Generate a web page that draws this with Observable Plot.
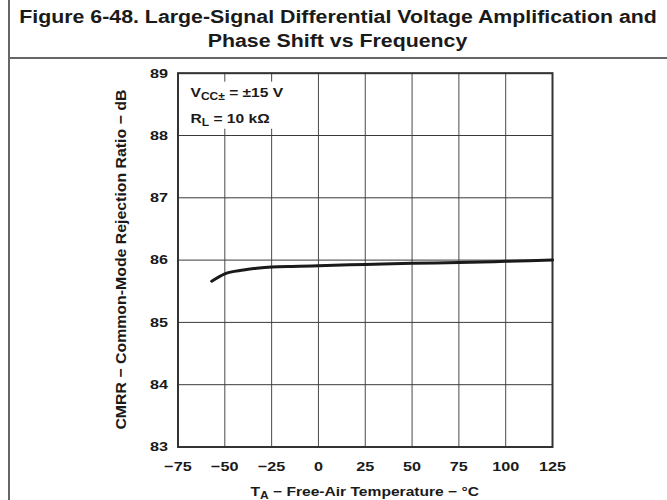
<!DOCTYPE html>
<html>
<head>
<meta charset="utf-8">
<script src="https://cdn.jsdelivr.net/npm/d3@7"></script>
<script src="https://cdn.jsdelivr.net/npm/@observablehq/plot@0.6"></script>
<style>
  html, body { margin: 0; padding: 0; background: #fff; }
  #wrap { position: relative; width: 667px; height: 500px; overflow: hidden; background: #fff;
          font-family: "Liberation Sans", Arial, Helvetica, sans-serif; color: #1a1a1a; }
  #vline { position: absolute; left: 8px; top: 0; width: 1.5px; height: 500px; background: #666; }
  #hline { position: absolute; left: 8px; top: 57px; right: 0; height: 1.5px; background: #666; }
  #title { position: absolute; left: 9px; right: 0; top: 0; height: 57px; text-align: center;
           font-weight: bold; font-size: 18px; line-height: 24px; padding-top: 5px; box-sizing: border-box; }
  #title span { display: inline-block; transform: scaleX(1.185); transform-origin: center; white-space: nowrap; }
  #chart { position: absolute; left: 0; top: 58px; }
</style>
</head>
<body>
<div id="wrap">
  <div id="title"><span>Figure 6-48. Large-Signal Differential Voltage Amplification and</span><br><span>Phase Shift vs Frequency</span></div>
  <div id="hline"></div>
  <div id="vline"></div>
  <div id="chart"></div>
</div>
<script>
// Data
const temps = [-57, -50, -40, -33, -25, -10, 0, 25, 50, 75, 100, 125];
const cmrr  = [85.66, 85.78, 85.84, 85.87, 85.89, 85.90, 85.91, 85.93, 85.95, 85.96, 85.98, 86.00];
const xTicks = [-75, -50, -25, 0, 25, 50, 75, 100, 125];
const yTicks = [83, 84, 85, 86, 87, 88, 89];
const xLabelMain = "T";
const xLabelSub = "A";
const xLabelRest = " − Free-Air Temperature − °C";
const yLabel = "CMRR − Common-Mode Rejection Ratio − dB";

const data = temps.map((t, i) => ({t, v: cmrr[i]}));

const plot = Plot.plot({
  width: 667,
  height: 442,
  marginLeft: 177.5,
  marginRight: 115,
  marginTop: 14.7,
  marginBottom: 53.5,
  style: {fontFamily: "'Liberation Sans', Arial, sans-serif", fontWeight: "bold", fontSize: "13.5px", color: "#1a1a1a", background: "transparent", overflow: "visible"},
  x: {domain: [-75, 125]},
  y: {domain: [83, 89]},
  marks: [
    Plot.gridX(xTicks, {stroke: "#4a4a4a", strokeOpacity: 1, strokeWidth: 1}),
    Plot.gridY(yTicks, {stroke: "#3a3a3a", strokeOpacity: 1, strokeWidth: 1}),
    Plot.axisX(xTicks, {tickSize: 0, tickPadding: 14, label: null, fill: "#1a1a1a", tickFormat: d => d < 0 ? "−" + Math.abs(d) : String(d)}),
    Plot.axisY(yTicks, {tickSize: 0, tickPadding: 10, label: null, fill: "#1a1a1a", tickFormat: d => String(d)}),
    Plot.frame({stroke: "#333", strokeWidth: 2}),
    Plot.line(data, {x: "t", y: "v", curve: "monotone-x", stroke: "#1a1a1a", strokeWidth: 3})
  ]
});

document.getElementById("chart").appendChild(plot);

const svg = d3.select(plot);
// emulate the horizontally stretched lettering of the reference
svg.selectAll("text").each(function() {
  const w = this.getComputedTextLength();
  this.setAttribute("textLength", (w * 1.2).toFixed(2));
  this.setAttribute("lengthAdjust", "spacingAndGlyphs");
});

const xs = plot.scale("x"), ys = plot.scale("y");
const x0 = xs.apply(-75), x1 = xs.apply(125);
const y0 = ys.apply(83), y1 = ys.apply(89);

// annotation with white backing (masks grid lines behind it)
const ann = svg.append("g")
  .attr("font-family", "'Liberation Sans', Arial, sans-serif")
  .attr("font-weight", "bold").attr("font-size", 13).attr("fill", "#1a1a1a");
ann.append("rect").attr("x", x0 + 8).attr("y", y1 + 9).attr("width", 104).attr("height", 47).attr("fill", "#fff");
const a1 = ann.append("text").attr("text-anchor", "start").attr("transform", `translate(${x0 + 13},${y1 + 24}) scale(1.2,1)`);
a1.append("tspan").text("V");
a1.append("tspan").attr("font-size", 10).attr("dy", 3).text("CC±");
a1.append("tspan").attr("dy", -3).text(" = ±15 V");
const a2 = ann.append("text").attr("text-anchor", "start").attr("transform", `translate(${x0 + 13},${y1 + 50}) scale(1.2,1)`);
a2.append("tspan").text("R");
a2.append("tspan").attr("font-size", 10).attr("dy", 3).text("L");
a2.append("tspan").attr("dy", -3).text(" = 10 kΩ");

// x axis label
const xl = ann.append("text").attr("text-anchor", "middle")
  .attr("transform", `translate(${(x0 + x1) / 2},${y0 + 49}) scale(1.2,1)`);
xl.append("tspan").text(xLabelMain);
xl.append("tspan").attr("font-size", 10).attr("dy", 3).text(xLabelSub);
xl.append("tspan").attr("dy", -3).text(xLabelRest);

// y axis label
ann.append("text").attr("text-anchor", "middle").attr("dominant-baseline", "middle")
  .attr("font-size", 15.5)
  .attr("textLength", 340).attr("lengthAdjust", "spacingAndGlyphs")
  .attr("transform", `translate(${x0 - 56},${(y0 + y1) / 2}) rotate(-90)`)
  .text(yLabel);
</script>
</body>
</html>
